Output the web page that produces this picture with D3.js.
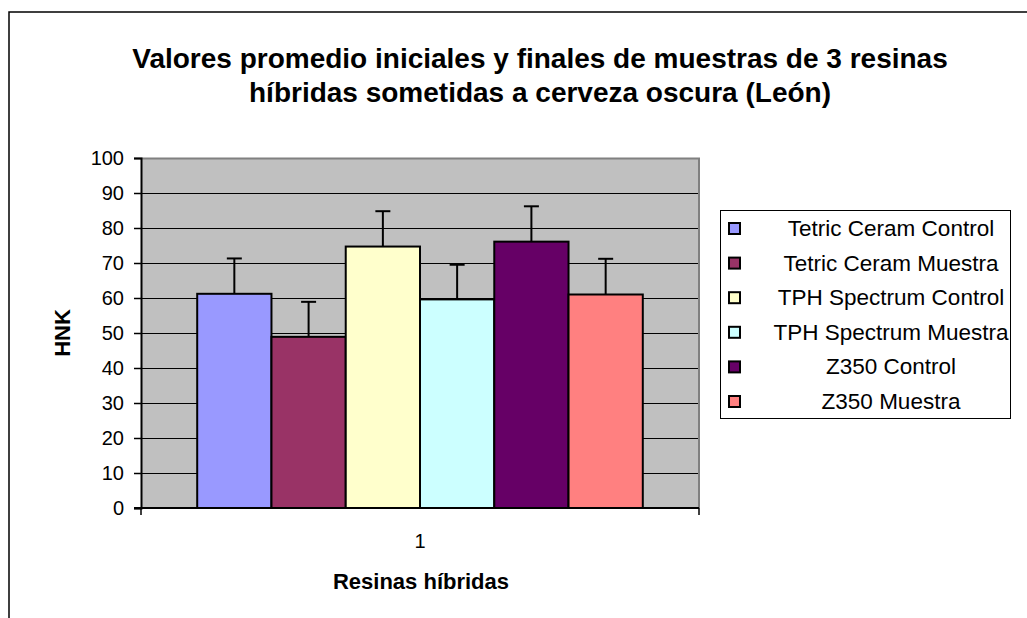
<!DOCTYPE html>
<html>
<head>
<meta charset="utf-8">
<script src="https://cdn.jsdelivr.net/npm/d3@7"></script>
<style>
  html, body { margin: 0; padding: 0; background: #fff; }
  svg { display: block; font-family: "Liberation Sans", Arial, sans-serif; }
</style>
</head>
<body>
<svg id="chart" width="1027" height="618"></svg>
<script>
const titleLines = ["Valores promedio iniciales y finales de muestras de 3 resinas", "híbridas sometidas a cerveza oscura (León)"];
const categories = ["1"];
const seriesNames = ["Tetric Ceram Control", "Tetric Ceram Muestra", "TPH Spectrum Control", "TPH Spectrum Muestra", "Z350 Control", "Z350 Muestra"];
const seriesValues = [61.2, 48.9, 74.7, 59.6, 76.1, 61.0];
const seriesErrors = [10.1, 10.0, 10.1, 9.9, 10.1, 10.2];
const seriesColors = ["#9999FF", "#993366", "#FFFFCC", "#CCFFFF", "#660066", "#FF8080"];
const yTicks = [0, 10, 20, 30, 40, 50, 60, 70, 80, 90, 100];
const yTitle = "HNK";
const xTitle = "Resinas híbridas";

const svg = d3.select("#chart");
const plot = { left: 141, right: 699, top: 158, bottom: 508 };

// outer frame
svg.append("path")
  .attr("d", `M9,630 L9,12 L1040,12`)
  .attr("fill", "none").attr("stroke", "#000").attr("stroke-width", 1.5);

// title
svg.append("g").selectAll("text").data(titleLines).join("text")
  .attr("x", 540).attr("y", (d, i) => 68 + i * 34)
  .attr("text-anchor", "middle")
  .attr("font-weight", "bold").attr("font-size", 28)
  .text(d => d);

const y = d3.scaleLinear().domain([0, 100]).range([plot.bottom, plot.top]);
const x0 = d3.scaleBand().domain(categories).range([plot.left, plot.right]).paddingInner(0.112).paddingOuter(0.112);
const x1 = d3.scaleBand().domain(seriesNames).range([0, x0.bandwidth()]).padding(0);

// plot background
svg.append("rect")
  .attr("x", plot.left).attr("y", plot.top)
  .attr("width", plot.right - plot.left).attr("height", plot.bottom - plot.top)
  .attr("fill", "#C0C0C0");

// gridlines
svg.append("g").selectAll("line").data(yTicks.filter(t => t > 0 && t < 100)).join("line")
  .attr("x1", plot.left).attr("x2", plot.right)
  .attr("y1", d => Math.round(y(d)) + 0.5).attr("y2", d => Math.round(y(d)) + 0.5)
  .attr("stroke", "#000").attr("stroke-width", 1);

// top/right border gray
svg.append("path")
  .attr("d", `M${plot.left},${plot.top + 0.5} L${plot.right},${plot.top + 0.5} L${plot.right},${plot.bottom}`)
  .attr("fill", "none").attr("stroke", "#808080").attr("stroke-width", 2);

// y axis
const yAxis = d3.axisLeft(y).tickValues(yTicks).tickSize(7).tickPadding(10).tickFormat(d3.format("d"));
const gy = svg.append("g").attr("transform", `translate(${plot.left},0)`).call(yAxis);
gy.select(".domain").attr("stroke", "#000").attr("stroke-width", 2);
gy.selectAll(".tick line").attr("stroke", "#000").attr("stroke-width", 1.5);
gy.selectAll(".tick text").attr("font-size", 20).attr("fill", "#000")
  .attr("font-family", "'Liberation Sans', Arial, sans-serif");

// bars
const groups = svg.append("g").selectAll("g").data(categories).join("g")
  .attr("transform", d => `translate(${x0(d)},0)`);
groups.selectAll("rect").data(seriesNames.map((n, i) => ({ n, v: seriesValues[i], c: seriesColors[i] }))).join("rect")
  .attr("x", d => x1(d.n)).attr("y", d => y(d.v))
  .attr("width", x1.bandwidth()).attr("height", d => y(0) - y(d.v))
  .attr("fill", d => d.c).attr("stroke", "#000").attr("stroke-width", 2);

// error bars (upper only)
const eb = groups.selectAll("g.err").data(seriesNames.map((n, i) => ({ n, v: seriesValues[i], e: seriesErrors[i] }))).join("g").attr("class", "err");
eb.append("line")
  .attr("x1", d => x1(d.n) + x1.bandwidth() / 2).attr("x2", d => x1(d.n) + x1.bandwidth() / 2)
  .attr("y1", d => y(d.v)).attr("y2", d => y(d.v + d.e))
  .attr("stroke", "#000").attr("stroke-width", 2);
eb.append("line")
  .attr("x1", d => x1(d.n) + x1.bandwidth() / 2 - 7.5).attr("x2", d => x1(d.n) + x1.bandwidth() / 2 + 7.5)
  .attr("y1", d => y(d.v + d.e)).attr("y2", d => y(d.v + d.e))
  .attr("stroke", "#000").attr("stroke-width", 2);

// x axis
const xAxisScale = d3.scaleLinear().domain([0, 1]).range([plot.left, plot.right]);
const gx = svg.append("g").attr("transform", `translate(0,${plot.bottom})`);
gx.append("line").attr("x1", plot.left - 7).attr("x2", plot.right)
  .attr("y1", 0).attr("y2", 0).attr("stroke", "#000").attr("stroke-width", 2);
gx.selectAll("line.tk").data([0, 1]).join("line").attr("class", "tk")
  .attr("x1", d => xAxisScale(d)).attr("x2", d => xAxisScale(d))
  .attr("y1", 0).attr("y2", 7).attr("stroke", "#000").attr("stroke-width", 1.5);
gx.selectAll("text").data(categories).join("text")
  .attr("x", d => x0(d) + x0.bandwidth() / 2).attr("y", 40)
  .attr("text-anchor", "middle").attr("font-size", 20).text(d => d);

// axis titles
svg.append("text")
  .attr("transform", `translate(70,333) rotate(-90)`)
  .attr("text-anchor", "middle").attr("font-weight", "bold").attr("font-size", 22)
  .text(yTitle);
svg.append("text")
  .attr("x", 421).attr("y", 589)
  .attr("text-anchor", "middle").attr("font-weight", "bold").attr("font-size", 22)
  .text(xTitle);

// legend
const lg = svg.append("g");
lg.append("rect").attr("x", 720.5).attr("y", 210.5).attr("width", 290).attr("height", 208)
  .attr("fill", "#fff").attr("stroke", "#000").attr("stroke-width", 1);
const items = lg.selectAll("g.item").data(seriesNames.map((n, i) => ({ n, c: seriesColors[i] }))).join("g")
  .attr("class", "item")
  .attr("transform", (d, i) => `translate(0,${228 + i * 34.6})`);
items.append("rect").attr("x", 729).attr("y", -5).attr("width", 11).attr("height", 11)
  .attr("fill", d => d.c).attr("stroke", "#000").attr("stroke-width", 2);
items.append("text").attr("x", 891).attr("y", 8).attr("text-anchor", "middle")
  .attr("font-size", 22.5).text(d => d.n);
</script>
</body>
</html>
